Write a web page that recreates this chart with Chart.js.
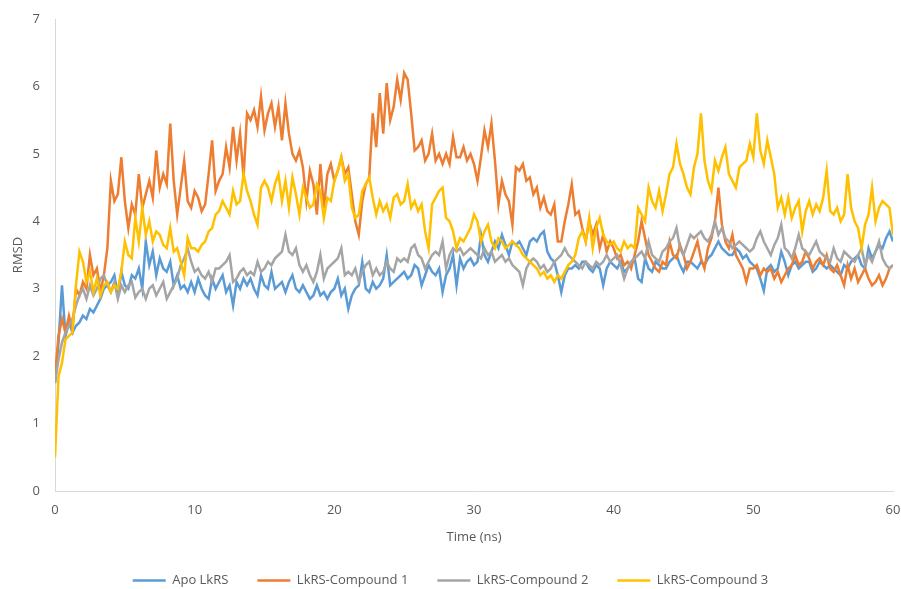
<!DOCTYPE html>
<html>
<head>
<meta charset="utf-8">
<title>RMSD</title>
<script src="https://cdn.jsdelivr.net/npm/chart.js@4.4.1/dist/chart.umd.min.js"></script>
<style>
    html, body { margin: 0; padding: 0; background: #fff; }
    #wrap { width: 901px; height: 589px; }
</style>
</head>
<body>
<div id="wrap"><canvas id="rmsd-chart" width="901" height="589"></canvas></div>
<script>
// Sampling interval of the trajectories (ns)
const step = 0.25;

const seriesNames = ['Apo LkRS', 'LkRS-Compound 1', 'LkRS-Compound 2', 'LkRS-Compound 3'];
const seriesColors = ['#5B9BD5', '#ED7D31', '#A5A5A5', '#FFC000'];

// RMSD values, one every 0.25 ns from 0 to 60 ns
const apoLkrs = [
    1.6,2.2,3.05,2.3, 2.5,2.35,2.45,2.5, 2.6,2.55,2.7,2.65, 2.75,2.85,3.0,3.05, 3.1,3.2,2.9,3.25,
    3.05,3.0,3.2,3.15, 3.3,3.0,3.7,3.35, 3.55,3.2,3.45,3.3, 3.25,3.4,3.05,3.2, 3.0,3.05,2.95,3.1,
    2.95,3.15,3.0,2.9, 2.85,3.15,3.0,3.1, 3.2,2.95,3.05,2.75, 3.1,3.0,3.15,3.05, 3.15,3.0,2.9,3.2,
    3.05,3.0,3.25,3.0, 3.05,3.1,2.95,3.1, 3.2,3.0,2.95,3.05, 2.95,2.85,2.9,3.05, 2.9,2.95,2.85,2.95,
    3.0,3.15,2.9,3.0, 2.7,2.9,3.0,3.05, 3.4,3.0,2.95,3.1, 3.0,3.05,3.15,3.5, 3.05,3.1,3.15,3.2,
    3.25,3.15,3.2,3.35, 3.3,3.05,3.2,3.35, 3.25,3.2,3.3,2.95, 3.2,3.3,3.5,3.05, 3.45,3.3,3.4,3.45,
    3.35,3.4,3.8,3.5, 3.4,3.55,3.7,3.6, 3.8,3.65,3.5,3.7, 3.65,3.7,3.6,3.5, 3.7,3.75,3.7,3.8,
    3.85,3.55,3.45,3.4, 3.2,2.95,3.2,3.3, 3.3,3.35,3.3,3.4, 3.4,3.3,3.25,3.35, 3.3,3.05,3.3,3.4,
    3.35,3.3,3.4,3.25, 3.3,3.4,3.45,3.15, 3.1,3.45,3.3,3.25, 3.4,3.35,3.3,3.3, 3.4,3.45,3.5,3.35,
    3.25,3.4,3.4,3.35, 3.3,3.4,3.35,3.45, 3.5,3.6,3.7,3.6, 3.55,3.5,3.5,3.6, 3.55,3.45,3.5,3.4,
    3.35,3.3,3.15,2.97, 3.3,3.35,3.25,3.3, 3.55,3.4,3.2,3.35, 3.4,3.3,3.35,3.4, 3.4,3.25,3.3,3.4,
    3.35,3.3,3.35,3.3, 3.25,3.2,3.35,3.3, 3.4,3.45,3.5,3.35, 3.3,3.6,3.45,3.55, 3.65,3.6,3.75,3.85,
    3.7
];

const compound1 = [
    1.7,2.3,2.55,2.35, 2.6,2.4,3.0,2.9, 3.1,3.0,3.5,3.2, 3.3,2.95,3.2,3.6, 4.6,4.3,4.4,4.95,
    4.3,3.9,4.25,4.1, 4.7,4.2,4.4,4.6, 4.35,5.05,4.5,4.7, 4.55,5.45,4.6,4.1, 4.5,4.9,4.3,4.2,
    4.45,4.35,4.15,4.25, 4.7,5.2,4.45,4.6, 4.7,5.1,4.8,5.4, 4.9,5.3,4.65,5.6, 5.5,5.65,5.4,5.85,
    5.35,5.6,5.75,5.4, 5.7,5.2,5.75,5.3, 5.0,4.9,5.05,4.8, 4.3,4.75,4.55,4.1, 4.85,4.2,4.7,4.85,
    4.6,4.75,4.95,4.7, 4.8,4.4,4.0,3.8, 4.3,4.55,4.65,5.6, 5.1,5.9,5.3,6.05, 5.5,5.7,6.1,5.8,
    6.2,6.1,5.6,5.05, 5.1,5.2,4.9,5.0, 5.3,4.9,5.0,4.85, 5.0,4.85,5.25,4.95, 4.95,5.1,4.9,5.0,
    4.85,4.6,4.95,5.35, 5.1,5.45,4.9,4.25, 4.6,4.4,4.3,3.95, 4.8,4.75,4.85,4.6, 4.65,4.4,4.5,4.2,
    4.35,4.15,4.1,4.25, 3.7,3.7,4.0,4.25, 4.55,4.1,4.15,3.9, 3.7,4.0,3.8,3.95, 3.6,3.8,3.55,3.7,
    3.6,3.45,3.5,3.35, 3.4,3.3,3.5,3.7, 4.0,3.75,3.5,3.4, 3.3,3.25,3.4,3.35, 3.7,3.5,3.45,3.65,
    3.5,3.3,3.4,3.55, 3.7,3.45,3.3,3.6, 3.75,4.0,4.5,3.95, 3.7,3.6,3.8,3.5, 3.4,3.3,3.1,3.3,
    3.3,3.35,3.2,3.3, 3.25,3.3,3.15,3.25, 3.1,3.2,3.3,3.35, 3.5,3.35,3.4,3.55, 3.45,3.3,3.4,3.45,
    3.35,3.5,3.3,3.25, 3.35,3.2,3.05,3.35, 3.15,3.3,3.1,3.2, 3.3,3.15,3.05,3.1, 3.2,3.05,3.15,3.3,
    3.35
];

const compound2 = [
    1.6,1.95,2.2,2.35, 2.45,2.55,2.75,2.9, 3.0,2.85,3.05,2.9, 3.0,3.15,3.2,3.05, 2.95,3.1,2.85,3.05,
    2.95,3.05,3.1,2.87, 2.95,3.0,2.85,3.0, 3.05,2.9,3.0,3.1, 2.85,2.95,3.05,3.15, 3.35,3.45,3.6,3.4,
    3.25,3.3,3.2,3.15, 3.25,3.1,3.3,3.3, 3.35,3.4,3.5,3.1, 3.15,3.25,3.3,3.2, 3.25,3.2,3.4,3.25,
    3.3,3.4,3.35,3.45, 3.5,3.55,3.8,3.55, 3.5,3.6,3.35,3.25, 3.35,3.2,3.1,3.25, 3.5,3.15,3.3,3.35,
    3.4,3.45,3.6,3.2, 3.25,3.2,3.3,3.1, 3.25,3.35,3.4,3.2, 3.3,3.2,3.25,3.4, 3.3,3.25,3.45,3.4,
    3.45,3.4,3.6,3.65, 3.5,3.45,3.3,3.4, 3.5,3.55,3.5,3.7, 3.3,3.5,3.6,3.55, 3.6,3.5,3.55,3.6,
    3.55,3.5,3.45,3.6, 3.5,3.55,3.4,3.45, 3.5,3.4,3.45,3.35, 3.3,3.25,3.05,3.3, 3.4,3.45,3.4,3.3,
    3.35,3.25,3.3,3.4, 3.45,3.5,3.6,3.5, 3.45,3.4,3.35,3.3, 3.4,3.35,3.3,3.4, 3.35,3.4,3.5,3.4,
    3.45,3.5,3.35,3.15, 3.3,3.4,3.45,3.5, 3.55,3.45,3.7,3.5, 3.45,3.4,3.55,3.6, 3.7,3.75,3.9,3.6,
    3.5,3.65,3.8,3.75, 3.8,3.85,3.75,3.7, 3.8,4.0,3.8,3.9, 3.75,3.7,3.6,3.65, 3.7,3.65,3.6,3.55,
    3.6,3.75,3.85,3.7, 3.6,3.5,3.65,3.75, 3.95,3.6,3.55,3.45, 3.6,3.8,3.6,3.55, 3.5,3.6,3.7,3.55,
    3.5,3.45,3.4,3.6, 3.45,3.4,3.55,3.5, 3.45,3.4,3.5,3.6, 3.35,3.5,3.4,3.55, 3.7,3.45,3.35,3.3,
    3.35
];

const compound3 = [
    0.5,1.7,1.9,2.25, 2.3,2.35,3.05,3.55, 3.4,3.1,3.25,2.95, 3.15,2.9,3.05,3.1, 2.95,3.05,3.0,3.25,
    3.7,3.5,3.45,4.05, 3.7,4.2,3.8,4.0, 3.7,3.85,3.8,3.65, 3.6,3.9,3.55,3.6, 3.4,3.2,3.75,3.6,
    3.6,3.55,3.65,3.7, 3.85,3.9,4.1,4.15, 4.3,4.2,4.1,4.45, 4.25,4.3,4.7,4.45, 4.3,4.1,3.95,4.5,
    4.6,4.5,4.3,4.55, 4.7,4.3,4.6,4.2, 4.65,4.4,4.1,4.5, 4.35,4.2,4.25,4.55, 4.45,4.05,4.35,4.3,
    4.6,4.75,4.95,4.6, 4.7,4.2,4.05,4.1, 4.45,4.55,4.65,4.35, 4.1,4.3,4.15,4.25, 4.05,4.35,4.4,4.25,
    4.3,4.55,4.2,4.3, 4.15,4.25,3.85,3.6, 4.25,4.35,4.45,4.5, 4.05,4.0,3.85,3.6, 3.75,3.7,3.8,3.9,
    4.1,4.0,3.7,3.85, 3.95,3.7,3.6,3.75, 3.7,3.6,3.65,3.7, 3.65,3.6,3.5,3.45, 3.4,3.35,3.3,3.2,
    3.25,3.15,3.2,3.1, 3.2,3.15,3.25,3.35, 3.4,3.5,3.75,3.85, 3.7,4.05,3.6,3.9, 4.05,3.8,3.7,3.65,
    3.7,3.6,3.55,3.7, 3.6,3.65,3.6,4.2, 4.1,4.0,4.5,4.3, 4.2,4.45,4.15,4.4, 4.7,4.8,5.15,4.85,
    4.7,4.5,4.4,4.8, 5.0,5.6,4.9,4.6, 4.45,4.9,4.75,4.95, 5.1,4.7,4.6,4.5, 4.8,4.85,4.9,5.15,
    4.95,5.6,5.05,4.85, 5.2,4.95,4.7,4.2, 4.35,4.1,4.35,4.05, 4.2,4.3,3.85,4.15, 4.3,4.1,4.25,4.15,
    4.35,4.75,4.15,4.1, 4.2,4.0,4.1,4.7, 4.2,4.0,3.9,3.6, 3.95,4.1,4.5,4.0, 4.2,4.3,4.25,4.2,
    3.8
];

const allSeries = [apoLkrs, compound1, compound2, compound3];

const textColor = '#595959';
const axisColor = '#D9D9D9';
const fontFamily = "'Open Sans', 'Liberation Sans', sans-serif";

function toPoints(values) {
    return values.map((v, i) => ({ x: i * step, y: v }));
}

// Later series sit on top of earlier ones; legend keeps the original order
const datasets = allSeries.map((values, i) => ({
    label: seriesNames[i],
    data: toPoints(values),
    borderColor: seriesColors[i],
    backgroundColor: seriesColors[i],
    borderWidth: 2.5,
    pointRadius: 0,
    tension: 0,
    order: allSeries.length - i
}));

const ctx = document.getElementById('rmsd-chart').getContext('2d');
new Chart(ctx, {
    type: 'line',
    data: { datasets: datasets },
    options: {
        responsive: false,
        animation: false,
        events: [],
        layout: { padding: { top: 19, right: 0, bottom: -8, left: 0 } },
        font: { family: fontFamily, size: 13 },
        scales: {
            x: {
                type: 'linear',
                min: 0,
                max: 60,
                grid: { display: false, drawTicks: false },
                border: { display: true, color: axisColor, width: 1 },
                ticks: { stepSize: 10, color: textColor, padding: 11, font: { family: fontFamily, size: 13 } },
                title: {
                    display: true,
                    text: 'Time (ns)',
                    color: textColor,
                    font: { family: fontFamily, size: 13 },
                    padding: { top: 0, bottom: 0 }
                },
                afterFit: (scale) => {
                    scale.height = 54;
                    scale.paddingLeft = 0;
                    scale.paddingRight = 8;
                }
            },
            y: {
                min: 0,
                max: 7,
                grid: { display: false, drawTicks: false },
                border: { display: true, color: axisColor, width: 1 },
                ticks: { stepSize: 1, color: textColor, padding: 15, font: { family: fontFamily, size: 13 } },
                title: {
                    display: true,
                    text: 'RMSD',
                    color: textColor,
                    font: { family: fontFamily, size: 13 },
                    padding: { top: 10, bottom: 0 }
                },
                afterFit: (scale) => {
                    scale.width = 55;
                    scale.paddingTop = 0;
                    scale.paddingBottom = 0;
                }
            }
        },
        plugins: {
            tooltip: { enabled: false },
            legend: {
                position: 'bottom',
                labels: {
                    color: textColor,
                    font: { family: fontFamily, size: 13 },
                    usePointStyle: true,
                    pointStyle: 'line',
                    pointStyleWidth: 33,
                    boxHeight: 13,
                    padding: 29,
                    sort: (a, b) => a.datasetIndex - b.datasetIndex
                }
            }
        }
    }
});
</script>
</body>
</html>
